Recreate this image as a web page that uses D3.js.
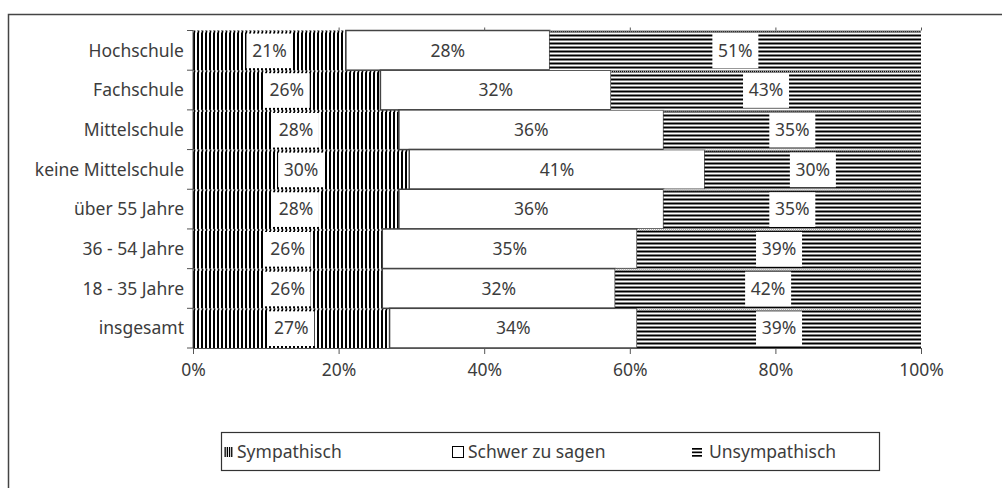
<!DOCTYPE html>
<meta charset="utf-8">
<head>
<title>Sympathie nach Bildung und Alter</title>
<script src="https://d3js.org/d3.v7.min.js"></script>
<style>
body { margin: 0; background: #fff; }
text { font-family: "Noto Sans", "Open Sans", sans-serif; fill: #3c3c3c; font-size: 17.5px; }
.axis path, .axis line { stroke: #555; }
</style>
</head>
<body>
<script>

// data
var categories = ["Hochschule", "Fachschule", "Mittelschule", "keine Mittelschule",
                  "über 55 Jahre", "36 - 54 Jahre", "18 - 35 Jahre", "insgesamt"];
var sympathisch   = [21, 26, 28, 30, 28, 26, 26, 27];
var schwer        = [28, 32, 36, 41, 36, 35, 32, 34];
var unsympathisch = [51, 43, 35, 30, 35, 39, 42, 39];
var seriesNames = ["Sympathisch", "Schwer zu sagen", "Unsympathisch"];
var xTicks = [0, 0.2, 0.4, 0.6, 0.8, 1];

var W = 1002, H = 488;
var margin = {top: 30.5, left: 193, right: 81, bottom: 140};
var width = W - margin.left - margin.right,
    height = H - margin.top - margin.bottom;

var rows = categories.map(function(c, i) {
  return {cat: c, s: sympathisch[i], w: schwer[i], u: unsympathisch[i]};
});
var keys = ["s", "w", "u"];
var stack = d3.stack().keys(keys).offset(d3.stackOffsetExpand)(rows);

var x = d3.scaleLinear().domain([0, 1]).range([0, width]);
var y = d3.scaleBand().domain(categories).range([0, height]).padding(0);

var svg = d3.select("body").append("svg")
    .attr("width", W).attr("height", H);

// outer frame (only top and left visible)
svg.append("rect")
    .attr("x", 8.5).attr("y", 14.5)
    .attr("width", W + 20).attr("height", H + 20)
    .attr("fill", "none").attr("stroke", "#444").attr("stroke-width", 1.5);

var defs = svg.append("defs");
var pv = defs.append("pattern").attr("id", "vert")
    .attr("patternUnits", "userSpaceOnUse").attr("width", 4).attr("height", 4);
pv.append("rect").attr("width", 4).attr("height", 4).attr("fill", "#fff");
pv.append("rect").attr("width", 2).attr("height", 4).attr("fill", "#000");
var ph = defs.append("pattern").attr("id", "horiz")
    .attr("patternUnits", "userSpaceOnUse").attr("width", 4).attr("height", 4);
ph.append("rect").attr("width", 4).attr("height", 4).attr("fill", "#fff");
ph.append("rect").attr("width", 4).attr("height", 2).attr("fill", "#000");

var fills = {s: "url(#vert)", w: "#fff", u: "url(#horiz)"};

var g = svg.append("g")
    .attr("transform", "translate(" + margin.left + "," + margin.top + ")");

var layer = g.selectAll(".layer").data(stack).enter().append("g")
    .attr("class", "layer");

layer.selectAll("rect").data(function(d) {
    return d.map(function(v) { return {key: d.key, v: v}; });
  })
  .enter().append("rect")
    .attr("x", function(d) { return x(d.v[0]); })
    .attr("y", function(d) { return y(d.v.data.cat); })
    .attr("width", function(d) { return x(d.v[1]) - x(d.v[0]); })
    .attr("height", y.bandwidth())
    .attr("fill", function(d) { return fills[d.key]; })
    .attr("stroke", function(d) { return d.key == "w" ? "#444" : "none"; })
    .attr("stroke-width", 1.5);

// dotted grey top edge on patterned segments
layer.filter(function(d) { return d.key != "w"; })
  .selectAll("line").data(function(d) { return d; })
  .enter().append("line")
    .attr("x1", function(d) { return x(d[0]); })
    .attr("x2", function(d) { return x(d[1]); })
    .attr("y1", function(d) { return y(d.data.cat) + 1; })
    .attr("y2", function(d) { return y(d.data.cat) + 1; })
    .attr("stroke", "#aaa").attr("stroke-width", 2)
    .attr("stroke-dasharray", "1,1");

// value labels
var labels = layer.selectAll(".lab").data(function(d) {
    return d.map(function(v, i) { return {key: d.key, v: v, val: v.data[d.key]}; });
  })
  .enter().append("g").attr("class", "lab")
    .attr("transform", function(d) {
      return "translate(" + x((d.v[0] + d.v[1]) / 2) + "," +
             (y(d.v.data.cat) + y.bandwidth() / 2) + ")";
    });
labels.append("rect")
    .attr("x", -23).attr("width", 46)
    .attr("y", -y.bandwidth() / 2 + 3).attr("height", y.bandwidth() - 5)
    .attr("fill", function(d) { return d.key == "w" ? "none" : "#fff"; });
labels.append("text")
    .attr("text-anchor", "middle").attr("dy", "0.36em")
    .text(function(d) { return d.val + "%"; });

// top tick marks
g.append("g")
    .attr("class", "axis")
    .call(d3.axisTop(x).tickValues(xTicks.slice(1)).tickSize(3).tickFormat(""))
    .call(function(a) { a.select(".domain").remove(); });

// x axis
g.append("g")
    .attr("class", "axis")
    .attr("transform", "translate(0," + height + ")")
    .call(d3.axisBottom(x).tickValues(xTicks).tickSize(6).tickSizeOuter(0)
      .tickFormat(d3.format(".0%")))
    .selectAll("text")
      .style("font-size", "17.5px")
      .attr("fill", "#3c3c3c")
      .attr("dy", "1.1em");

// y axis: labels centred in band, ticks between bands
var yAxis = g.append("g").attr("class", "axis");
yAxis.append("line").attr("x1", 0).attr("x2", 0).attr("y1", 0).attr("y2", height)
    .attr("stroke", "#555");
yAxis.selectAll(".yt").data(categories.concat([null])).enter().append("line")
    .attr("x1", -6).attr("x2", 0)
    .attr("y1", function(d, i) { return i * y.step(); })
    .attr("y2", function(d, i) { return i * y.step(); })
    .attr("stroke", "#555");
yAxis.selectAll(".yl").data(categories).enter().append("text")
    .attr("x", -9)
    .attr("y", function(d) { return y(d) + y.bandwidth() / 2; })
    .attr("dy", "0.36em")
    .attr("text-anchor", "end")
    .text(function(d) { return d; });

// legend
var leg = svg.append("g");
leg.append("rect")
    .attr("x", 221.5).attr("y", 432.5).attr("width", 658).attr("height", 38)
    .attr("fill", "#fff").attr("stroke", "#333").attr("stroke-width", 1.2);
var legX = [237, 468, 709];
var items = leg.selectAll(".li").data(seriesNames).enter().append("g")
    .attr("transform", function(d, i) { return "translate(" + legX[i] + ",452)"; });
items.append("text")
    .attr("dy", "0.36em")
    .text(function(d) { return d; });
// markers
var m0 = items.filter(function(d, i) { return i == 0; });
m0.selectAll("rect").data(d3.range(4)).enter().append("rect")
    .attr("x", function(d) { return -12.5 + d * 2.2; }).attr("y", -5)
    .attr("width", 1.3).attr("height", 10).attr("fill", "#000");
items.filter(function(d, i) { return i == 1; }).append("rect")
    .attr("x", -15.5).attr("y", -5.5).attr("width", 11).attr("height", 11)
    .attr("fill", "#fff").attr("stroke", "#000");
var m2 = items.filter(function(d, i) { return i == 2; });
m2.selectAll("rect").data(d3.range(3)).enter().append("rect")
    .attr("x", -17).attr("y", function(d) { return -4 + d * 3.5; })
    .attr("width", 10).attr("height", 1.7).attr("fill", "#000");

</script>
</body>
